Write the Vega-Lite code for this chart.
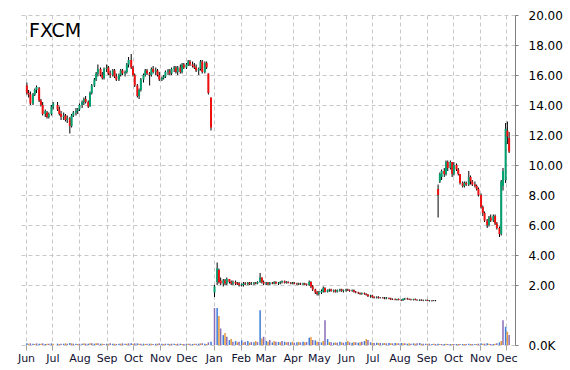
{
"$schema":"https://vega.github.io/schema/vega-lite/v6.json",
"width":494,"height":330,
"autosize":{"type":"none"},
"padding":{"left":21,"top":15,"right":55,"bottom":25},
"background":"white",
"title":{"text":"FXCM","anchor":"start","frame":"group","baseline":"top","offset":0,"dx":8,"dy":32,"fontSize":19,"font":"DejaVu Sans","fontWeight":"normal","color":"#000000"},
"config":{"view":{"stroke":null},"font":"DejaVu Sans","axis":{"labelOverlap":false},"axisY":{"labelOverlap":false},"axisRight":{"labelOverlap":false}},
"data":{"values":[
{"d":"2014-06-02","o":15.3,"h":15.5,"l":14.7,"c":14.8,"v":5},
{"d":"2014-06-04","o":14.8,"h":15.0,"l":14.5,"c":14.7,"v":4},
{"d":"2014-06-06","o":14.7,"h":14.9,"l":14.0,"c":14.1,"v":5},
{"d":"2014-06-09","o":14.1,"h":14.8,"l":14.0,"c":14.7,"v":4},
{"d":"2014-06-11","o":14.7,"h":15.1,"l":14.6,"c":15.0,"v":3},
{"d":"2014-06-13","o":15.0,"h":15.3,"l":14.8,"c":15.2,"v":5},
{"d":"2014-06-16","o":15.1,"h":15.2,"l":14.2,"c":14.3,"v":4},
{"d":"2014-06-18","o":14.3,"h":14.4,"l":13.9,"c":14.0,"v":4},
{"d":"2014-06-20","o":14.0,"h":14.2,"l":13.3,"c":13.4,"v":5},
{"d":"2014-06-23","o":13.4,"h":13.7,"l":13.2,"c":13.6,"v":3},
{"d":"2014-06-25","o":13.5,"h":13.6,"l":13.1,"c":13.2,"v":4},
{"d":"2014-06-27","o":13.2,"h":13.5,"l":13.1,"c":13.4,"v":4},
{"d":"2014-06-30","o":13.4,"h":14.0,"l":13.3,"c":13.9,"v":5},
{"d":"2014-07-02","o":13.9,"h":14.2,"l":13.7,"c":14.1,"v":4},
{"d":"2014-07-07","o":14.0,"h":14.2,"l":13.6,"c":13.7,"v":4},
{"d":"2014-07-09","o":13.7,"h":13.9,"l":13.3,"c":13.4,"v":3},
{"d":"2014-07-11","o":13.4,"h":13.6,"l":13.0,"c":13.2,"v":4},
{"d":"2014-07-14","o":13.2,"h":13.5,"l":13.0,"c":13.3,"v":4},
{"d":"2014-07-16","o":13.3,"h":13.4,"l":12.9,"c":13.0,"v":5},
{"d":"2014-07-18","o":13.0,"h":13.3,"l":12.8,"c":13.1,"v":4},
{"d":"2014-07-21","o":13.1,"h":13.2,"l":12.1,"c":12.6,"v":6},
{"d":"2014-07-23","o":12.6,"h":13.4,"l":12.5,"c":13.3,"v":5},
{"d":"2014-07-25","o":13.3,"h":13.6,"l":13.2,"c":13.5,"v":4},
{"d":"2014-07-28","o":13.5,"h":13.8,"l":13.3,"c":13.6,"v":4},
{"d":"2014-07-30","o":13.6,"h":13.8,"l":13.4,"c":13.7,"v":3},
{"d":"2014-08-01","o":13.7,"h":14.1,"l":13.6,"c":14.0,"v":4},
{"d":"2014-08-04","o":14.0,"h":14.3,"l":13.8,"c":14.2,"v":4},
{"d":"2014-08-06","o":14.2,"h":14.5,"l":14.0,"c":14.4,"v":5},
{"d":"2014-08-08","o":14.4,"h":14.6,"l":14.1,"c":14.2,"v":4},
{"d":"2014-08-11","o":14.2,"h":14.3,"l":13.8,"c":13.9,"v":4},
{"d":"2014-08-13","o":13.9,"h":14.9,"l":13.9,"c":14.8,"v":5},
{"d":"2014-08-15","o":14.8,"h":15.4,"l":14.7,"c":15.3,"v":5},
{"d":"2014-08-18","o":15.3,"h":15.8,"l":15.2,"c":15.7,"v":4},
{"d":"2014-08-20","o":15.7,"h":16.2,"l":15.6,"c":16.1,"v":5},
{"d":"2014-08-22","o":16.1,"h":16.7,"l":15.9,"c":16.4,"v":5},
{"d":"2014-08-25","o":16.4,"h":16.5,"l":15.9,"c":16.0,"v":4},
{"d":"2014-08-27","o":16.0,"h":16.2,"l":15.7,"c":15.8,"v":4},
{"d":"2014-08-29","o":15.8,"h":16.5,"l":15.7,"c":16.4,"v":3},
{"d":"2014-09-01","o":16.4,"h":16.7,"l":16.2,"c":16.5,"v":4},
{"d":"2014-09-03","o":16.5,"h":16.6,"l":16.0,"c":16.1,"v":4},
{"d":"2014-09-05","o":16.1,"h":16.3,"l":15.8,"c":16.0,"v":5},
{"d":"2014-09-08","o":16.0,"h":16.4,"l":15.9,"c":16.3,"v":4},
{"d":"2014-09-10","o":16.3,"h":16.4,"l":15.8,"c":15.9,"v":4},
{"d":"2014-09-12","o":15.9,"h":16.1,"l":15.6,"c":15.7,"v":3},
{"d":"2014-09-15","o":15.7,"h":16.1,"l":15.6,"c":16.0,"v":4},
{"d":"2014-09-17","o":16.0,"h":16.4,"l":15.9,"c":16.3,"v":4},
{"d":"2014-09-19","o":16.3,"h":16.4,"l":16.0,"c":16.1,"v":5},
{"d":"2014-09-22","o":16.1,"h":16.3,"l":15.9,"c":16.2,"v":4},
{"d":"2014-09-24","o":16.2,"h":16.8,"l":16.1,"c":16.7,"v":4},
{"d":"2014-09-26","o":16.7,"h":17.2,"l":16.5,"c":17.0,"v":5},
{"d":"2014-09-29","o":17.0,"h":17.4,"l":16.4,"c":16.5,"v":5},
{"d":"2014-10-01","o":16.5,"h":16.6,"l":15.9,"c":16.0,"v":4},
{"d":"2014-10-03","o":16.0,"h":16.1,"l":15.2,"c":15.3,"v":5},
{"d":"2014-10-06","o":15.3,"h":15.4,"l":14.5,"c":14.6,"v":5},
{"d":"2014-10-08","o":14.6,"h":15.1,"l":14.4,"c":15.0,"v":4},
{"d":"2014-10-10","o":15.0,"h":15.8,"l":14.9,"c":15.7,"v":4},
{"d":"2014-10-13","o":15.7,"h":16.1,"l":15.5,"c":16.0,"v":4},
{"d":"2014-10-15","o":16.0,"h":16.4,"l":15.9,"c":16.3,"v":3},
{"d":"2014-10-17","o":16.3,"h":16.4,"l":16.0,"c":16.1,"v":4},
{"d":"2014-10-20","o":16.1,"h":16.2,"l":15.3,"c":16.0,"v":4},
{"d":"2014-10-22","o":16.0,"h":16.5,"l":15.9,"c":16.4,"v":4},
{"d":"2014-10-24","o":16.4,"h":16.6,"l":16.1,"c":16.2,"v":3},
{"d":"2014-10-27","o":16.2,"h":16.5,"l":16.0,"c":16.3,"v":4},
{"d":"2014-10-29","o":16.3,"h":16.4,"l":15.9,"c":16.0,"v":4},
{"d":"2014-10-31","o":16.0,"h":16.2,"l":15.6,"c":15.7,"v":5},
{"d":"2014-11-03","o":15.7,"h":15.9,"l":15.6,"c":15.8,"v":4},
{"d":"2014-11-05","o":15.8,"h":16.0,"l":15.7,"c":15.9,"v":3},
{"d":"2014-11-07","o":15.9,"h":16.3,"l":15.8,"c":16.2,"v":4},
{"d":"2014-11-10","o":16.2,"h":16.4,"l":16.0,"c":16.3,"v":4},
{"d":"2014-11-12","o":16.3,"h":16.4,"l":16.0,"c":16.1,"v":3},
{"d":"2014-11-14","o":16.1,"h":16.5,"l":16.0,"c":16.4,"v":4},
{"d":"2014-11-17","o":16.4,"h":16.6,"l":16.2,"c":16.5,"v":4},
{"d":"2014-11-19","o":16.5,"h":16.6,"l":16.1,"c":16.2,"v":3},
{"d":"2014-11-21","o":16.2,"h":16.6,"l":16.0,"c":16.5,"v":4},
{"d":"2014-11-24","o":16.5,"h":16.7,"l":16.1,"c":16.2,"v":4},
{"d":"2014-11-26","o":16.2,"h":16.8,"l":16.1,"c":16.7,"v":3},
{"d":"2014-11-28","o":16.7,"h":16.8,"l":16.4,"c":16.5,"v":3},
{"d":"2014-12-01","o":16.5,"h":16.8,"l":16.4,"c":16.7,"v":4},
{"d":"2014-12-03","o":16.7,"h":17.0,"l":16.6,"c":16.9,"v":4},
{"d":"2014-12-05","o":16.9,"h":17.0,"l":16.6,"c":16.7,"v":4},
{"d":"2014-12-08","o":16.7,"h":16.9,"l":16.5,"c":16.6,"v":3},
{"d":"2014-12-10","o":16.6,"h":16.8,"l":16.4,"c":16.5,"v":4},
{"d":"2014-12-12","o":16.5,"h":16.7,"l":16.2,"c":16.3,"v":4},
{"d":"2014-12-15","o":16.3,"h":16.5,"l":16.0,"c":16.4,"v":4},
{"d":"2014-12-17","o":16.4,"h":17.0,"l":16.3,"c":16.9,"v":5},
{"d":"2014-12-19","o":16.9,"h":17.0,"l":16.1,"c":16.2,"v":5},
{"d":"2014-12-22","o":16.2,"h":16.9,"l":16.1,"c":16.8,"v":4},
{"d":"2014-12-24","o":16.8,"h":16.9,"l":16.4,"c":16.5,"v":3},
{"d":"2014-12-26","o":16.1,"h":16.1,"l":14.7,"c":14.8,"v":8},
{"d":"2014-12-29","o":14.5,"h":14.5,"l":12.3,"c":12.5,"v":10},
{"d":"2015-01-02","o":1.5,"h":2.0,"l":1.2,"c":1.9,"v":112},
{"d":"2015-01-05","o":2.2,"h":3.5,"l":2.0,"c":3.1,"v":112},
{"d":"2015-01-07","o":3.0,"h":3.1,"l":2.1,"c":2.2,"v":88},
{"d":"2015-01-09","o":2.3,"h":2.5,"l":2.0,"c":2.1,"v":50},
{"d":"2015-01-12","o":2.1,"h":2.4,"l":1.9,"c":2.3,"v":30},
{"d":"2015-01-14","o":2.3,"h":2.4,"l":2.0,"c":2.1,"v":36},
{"d":"2015-01-16","o":2.1,"h":2.5,"l":2.0,"c":2.4,"v":25},
{"d":"2015-01-19","o":2.4,"h":2.4,"l":2.1,"c":2.2,"v":15},
{"d":"2015-01-21","o":2.2,"h":2.3,"l":2.0,"c":2.1,"v":18},
{"d":"2015-01-23","o":2.1,"h":2.3,"l":2.0,"c":2.2,"v":10},
{"d":"2015-01-26","o":2.2,"h":2.3,"l":2.0,"c":2.1,"v":12},
{"d":"2015-01-28","o":2.1,"h":2.2,"l":2.0,"c":2.05,"v":8},
{"d":"2015-01-30","o":2.1,"h":2.2,"l":1.9,"c":2.0,"v":10},
{"d":"2015-02-02","o":2.0,"h":2.1,"l":1.9,"c":2.05,"v":14},
{"d":"2015-02-04","o":2.0,"h":2.2,"l":1.9,"c":2.1,"v":8},
{"d":"2015-02-06","o":2.1,"h":2.2,"l":2.0,"c":2.05,"v":10},
{"d":"2015-02-09","o":2.05,"h":2.2,"l":2.0,"c":2.15,"v":12},
{"d":"2015-02-11","o":2.15,"h":2.2,"l":2.0,"c":2.05,"v":7},
{"d":"2015-02-13","o":2.05,"h":2.2,"l":2.0,"c":2.1,"v":9},
{"d":"2015-02-16","o":2.1,"h":2.2,"l":2.0,"c":2.15,"v":8},
{"d":"2015-02-18","o":2.15,"h":2.2,"l":2.05,"c":2.1,"v":12},
{"d":"2015-02-20","o":2.1,"h":2.25,"l":2.05,"c":2.2,"v":9},
{"d":"2015-02-23","o":2.2,"h":2.8,"l":2.15,"c":2.5,"v":105},
{"d":"2015-02-25","o":2.5,"h":2.5,"l":2.1,"c":2.2,"v":20},
{"d":"2015-02-27","o":2.2,"h":2.3,"l":2.0,"c":2.1,"v":25},
{"d":"2015-03-02","o":2.1,"h":2.2,"l":2.0,"c":2.15,"v":12},
{"d":"2015-03-04","o":2.15,"h":2.2,"l":2.0,"c":2.05,"v":10},
{"d":"2015-03-06","o":2.05,"h":2.2,"l":2.0,"c":2.15,"v":15},
{"d":"2015-03-09","o":2.15,"h":2.2,"l":2.05,"c":2.1,"v":8},
{"d":"2015-03-11","o":2.1,"h":2.25,"l":2.05,"c":2.2,"v":12},
{"d":"2015-03-13","o":2.2,"h":2.25,"l":2.05,"c":2.1,"v":10},
{"d":"2015-03-16","o":2.1,"h":2.2,"l":2.0,"c":2.15,"v":9},
{"d":"2015-03-18","o":2.15,"h":2.25,"l":2.05,"c":2.2,"v":8},
{"d":"2015-03-20","o":2.2,"h":2.3,"l":2.1,"c":2.25,"v":12},
{"d":"2015-03-23","o":2.25,"h":2.3,"l":2.1,"c":2.15,"v":10},
{"d":"2015-03-25","o":2.15,"h":2.25,"l":2.1,"c":2.2,"v":8},
{"d":"2015-03-27","o":2.2,"h":2.25,"l":2.1,"c":2.15,"v":9},
{"d":"2015-03-30","o":2.15,"h":2.2,"l":2.05,"c":2.1,"v":8},
{"d":"2015-04-01","o":2.1,"h":2.2,"l":2.05,"c":2.15,"v":10},
{"d":"2015-04-03","o":2.15,"h":2.2,"l":2.05,"c":2.1,"v":7},
{"d":"2015-04-06","o":2.1,"h":2.15,"l":2.0,"c":2.05,"v":8},
{"d":"2015-04-08","o":2.05,"h":2.15,"l":2.0,"c":2.1,"v":9},
{"d":"2015-04-10","o":2.1,"h":2.15,"l":2.0,"c":2.05,"v":8},
{"d":"2015-04-13","o":2.05,"h":2.15,"l":2.0,"c":2.1,"v":10},
{"d":"2015-04-15","o":2.1,"h":2.15,"l":2.0,"c":2.05,"v":8},
{"d":"2015-04-17","o":2.05,"h":2.1,"l":1.95,"c":2.0,"v":9},
{"d":"2015-04-20","o":2.0,"h":2.3,"l":1.95,"c":2.2,"v":22},
{"d":"2015-04-22","o":2.2,"h":2.25,"l":1.8,"c":1.9,"v":24},
{"d":"2015-04-24","o":1.9,"h":2.0,"l":1.6,"c":1.7,"v":15},
{"d":"2015-04-27","o":1.7,"h":1.75,"l":1.4,"c":1.5,"v":14},
{"d":"2015-04-29","o":1.5,"h":1.6,"l":1.3,"c":1.4,"v":10},
{"d":"2015-05-01","o":1.4,"h":1.6,"l":1.3,"c":1.5,"v":9},
{"d":"2015-05-04","o":1.5,"h":1.7,"l":1.4,"c":1.6,"v":8},
{"d":"2015-05-06","o":1.6,"h":1.9,"l":1.5,"c":1.8,"v":12},
{"d":"2015-05-08","o":1.8,"h":1.85,"l":1.5,"c":1.55,"v":75},
{"d":"2015-05-11","o":1.55,"h":1.7,"l":1.5,"c":1.65,"v":18},
{"d":"2015-05-13","o":1.65,"h":1.75,"l":1.55,"c":1.7,"v":9},
{"d":"2015-05-15","o":1.7,"h":1.75,"l":1.55,"c":1.6,"v":8},
{"d":"2015-05-18","o":1.6,"h":1.7,"l":1.5,"c":1.65,"v":7},
{"d":"2015-05-20","o":1.65,"h":1.7,"l":1.5,"c":1.55,"v":8},
{"d":"2015-05-22","o":1.55,"h":1.7,"l":1.5,"c":1.65,"v":7},
{"d":"2015-05-25","o":1.65,"h":1.75,"l":1.55,"c":1.7,"v":10},
{"d":"2015-05-27","o":1.7,"h":1.75,"l":1.55,"c":1.6,"v":8},
{"d":"2015-05-29","o":1.6,"h":1.7,"l":1.5,"c":1.65,"v":7},
{"d":"2015-06-01","o":1.65,"h":1.75,"l":1.55,"c":1.7,"v":9},
{"d":"2015-06-03","o":1.7,"h":1.75,"l":1.6,"c":1.65,"v":12},
{"d":"2015-06-05","o":1.65,"h":1.7,"l":1.55,"c":1.6,"v":8},
{"d":"2015-06-08","o":1.6,"h":1.7,"l":1.55,"c":1.65,"v":7},
{"d":"2015-06-10","o":1.65,"h":1.7,"l":1.5,"c":1.55,"v":9},
{"d":"2015-06-12","o":1.55,"h":1.6,"l":1.45,"c":1.5,"v":8},
{"d":"2015-06-15","o":1.5,"h":1.55,"l":1.4,"c":1.45,"v":7},
{"d":"2015-06-17","o":1.45,"h":1.5,"l":1.35,"c":1.4,"v":8},
{"d":"2015-06-19","o":1.4,"h":1.5,"l":1.35,"c":1.45,"v":10},
{"d":"2015-06-22","o":1.45,"h":1.5,"l":1.35,"c":1.4,"v":12},
{"d":"2015-06-24","o":1.4,"h":1.45,"l":1.3,"c":1.35,"v":18},
{"d":"2015-06-26","o":1.35,"h":1.4,"l":1.2,"c":1.25,"v":15},
{"d":"2015-06-29","o":1.25,"h":1.35,"l":1.15,"c":1.3,"v":8},
{"d":"2015-07-01","o":1.3,"h":1.35,"l":1.15,"c":1.2,"v":7},
{"d":"2015-07-03","o":1.2,"h":1.25,"l":1.1,"c":1.15,"v":6},
{"d":"2015-07-06","o":1.15,"h":1.25,"l":1.1,"c":1.2,"v":7},
{"d":"2015-07-08","o":1.2,"h":1.25,"l":1.1,"c":1.15,"v":6},
{"d":"2015-07-10","o":1.15,"h":1.2,"l":1.1,"c":1.15,"v":6},
{"d":"2015-07-13","o":1.15,"h":1.2,"l":1.1,"c":1.12,"v":5},
{"d":"2015-07-15","o":1.12,"h":1.2,"l":1.05,"c":1.1,"v":6},
{"d":"2015-07-17","o":1.1,"h":1.2,"l":1.05,"c":1.15,"v":5},
{"d":"2015-07-20","o":1.15,"h":1.15,"l":1.05,"c":1.1,"v":6},
{"d":"2015-07-22","o":1.1,"h":1.15,"l":1.0,"c":1.05,"v":5},
{"d":"2015-07-24","o":1.05,"h":1.1,"l":1.0,"c":1.03,"v":5},
{"d":"2015-07-27","o":1.03,"h":1.1,"l":0.98,"c":1.0,"v":6},
{"d":"2015-07-29","o":1.0,"h":1.08,"l":0.97,"c":1.05,"v":5},
{"d":"2015-07-31","o":1.05,"h":1.1,"l":0.98,"c":1.0,"v":5},
{"d":"2015-08-03","o":1.0,"h":1.05,"l":0.93,"c":0.98,"v":6},
{"d":"2015-08-05","o":0.98,"h":1.1,"l":0.95,"c":1.08,"v":5},
{"d":"2015-08-07","o":1.08,"h":1.15,"l":1.0,"c":1.1,"v":5},
{"d":"2015-08-10","o":1.1,"h":1.15,"l":1.02,"c":1.05,"v":4},
{"d":"2015-08-12","o":1.05,"h":1.1,"l":1.0,"c":1.03,"v":5},
{"d":"2015-08-14","o":1.03,"h":1.08,"l":0.97,"c":1.0,"v":4},
{"d":"2015-08-17","o":1.0,"h":1.08,"l":0.97,"c":1.05,"v":5},
{"d":"2015-08-19","o":1.05,"h":1.1,"l":0.98,"c":1.0,"v":4},
{"d":"2015-08-21","o":1.0,"h":1.05,"l":0.95,"c":0.98,"v":5},
{"d":"2015-08-24","o":0.98,"h":1.05,"l":0.93,"c":1.0,"v":6},
{"d":"2015-08-26","o":1.0,"h":1.05,"l":0.95,"c":0.97,"v":4},
{"d":"2015-08-28","o":0.97,"h":1.03,"l":0.92,"c":0.98,"v":4},
{"d":"2015-08-31","o":0.98,"h":1.03,"l":0.93,"c":1.0,"v":4},
{"d":"2015-09-02","o":1.0,"h":1.03,"l":0.92,"c":0.95,"v":4},
{"d":"2015-09-04","o":0.95,"h":1.0,"l":0.9,"c":0.97,"v":4},
{"d":"2015-09-07","o":0.97,"h":1.0,"l":0.9,"c":0.95,"v":3},
{"d":"2015-09-09","o":0.95,"h":1.0,"l":0.92,"c":0.97,"v":4},
{"d":"2015-09-11","o":0.97,"h":1.0,"l":0.92,"c":0.96,"v":3},
{"d":"2015-09-14","o":8.4,"h":8.7,"l":6.5,"c":8.0,"v":4},
{"d":"2015-09-16","o":8.9,"h":9.5,"l":8.8,"c":9.4,"v":3},
{"d":"2015-09-18","o":9.2,"h":9.7,"l":9.0,"c":9.6,"v":3},
{"d":"2015-09-21","o":9.6,"h":9.8,"l":9.2,"c":9.4,"v":3},
{"d":"2015-09-23","o":9.4,"h":10.3,"l":9.3,"c":10.2,"v":4},
{"d":"2015-09-25","o":10.2,"h":10.3,"l":9.6,"c":9.8,"v":3},
{"d":"2015-09-28","o":9.8,"h":10.3,"l":9.7,"c":10.2,"v":3},
{"d":"2015-09-30","o":10.2,"h":10.2,"l":9.2,"c":9.4,"v":3},
{"d":"2015-10-02","o":9.4,"h":10.2,"l":9.3,"c":10.0,"v":3},
{"d":"2015-10-05","o":10.0,"h":10.1,"l":9.6,"c":9.7,"v":3},
{"d":"2015-10-07","o":9.7,"h":9.8,"l":9.3,"c":9.4,"v":3},
{"d":"2015-10-09","o":9.4,"h":9.4,"l":8.7,"c":8.8,"v":3},
{"d":"2015-10-12","o":8.8,"h":8.9,"l":8.5,"c":8.6,"v":3},
{"d":"2015-10-14","o":8.6,"h":8.9,"l":8.5,"c":8.8,"v":3},
{"d":"2015-10-16","o":8.8,"h":8.9,"l":8.6,"c":8.7,"v":3},
{"d":"2015-10-19","o":8.7,"h":9.6,"l":8.6,"c":9.2,"v":4},
{"d":"2015-10-21","o":9.2,"h":9.3,"l":8.7,"c":8.9,"v":3},
{"d":"2015-10-23","o":8.9,"h":9.0,"l":8.6,"c":8.7,"v":3},
{"d":"2015-10-26","o":8.7,"h":8.9,"l":8.5,"c":8.6,"v":3},
{"d":"2015-10-28","o":8.6,"h":8.7,"l":8.3,"c":8.4,"v":3},
{"d":"2015-10-30","o":8.4,"h":8.5,"l":7.9,"c":8.0,"v":4},
{"d":"2015-11-02","o":8.0,"h":8.1,"l":7.1,"c":7.2,"v":5},
{"d":"2015-11-04","o":7.2,"h":7.3,"l":6.6,"c":6.8,"v":4},
{"d":"2015-11-06","o":6.8,"h":6.9,"l":6.2,"c":6.3,"v":4},
{"d":"2015-11-09","o":6.3,"h":6.4,"l":5.8,"c":6.0,"v":5},
{"d":"2015-11-11","o":6.0,"h":6.6,"l":5.9,"c":6.5,"v":4},
{"d":"2015-11-13","o":6.5,"h":6.7,"l":6.2,"c":6.3,"v":3},
{"d":"2015-11-16","o":6.3,"h":6.7,"l":6.2,"c":6.6,"v":3},
{"d":"2015-11-18","o":6.6,"h":6.7,"l":6.0,"c":6.1,"v":4},
{"d":"2015-11-20","o":6.1,"h":6.2,"l":5.7,"c":5.8,"v":5},
{"d":"2015-11-23","o":5.8,"h":5.9,"l":5.2,"c":5.4,"v":8},
{"d":"2015-11-25","o":5.4,"h":9.0,"l":5.3,"c":8.9,"v":12},
{"d":"2015-11-27","o":8.6,"h":9.8,"l":8.3,"c":9.6,"v":75},
{"d":"2015-11-30","o":9.0,"h":12.8,"l":8.8,"c":12.4,"v":55},
{"d":"2015-12-02","o":12.3,"h":12.9,"l":11.4,"c":11.9,"v":40},
{"d":"2015-12-04","o":11.8,"h":12.2,"l":10.8,"c":10.9,"v":30}
]},
"encoding":{
  "x":{"field":"d","type":"temporal",
       "scale":{"type":"utc","domain":[{"year":2014,"month":6,"date":1,"utc":true},{"year":2015,"month":12,"date":5,"utc":true}]},
       "axis":{"title":null,"labelExpr":"utcFormat(datum.value, '%b')","tickCount":{"interval":"month","step":1},
               "grid":true,"gridColor":"#c8c8c8","gridDash":[4,3],"domain":false,
               "tickColor":"#a0a0a0","tickSize":5,"labelPadding":2,"labelFont":"DejaVu Sans","labelFontSize":11,
               "labelColor":"#101030","labelFlush":false,"labelOverlap":false}}
},
"layer":[
  {"mark":{"type":"bar","width":1.5},
   "encoding":{
     "y":{"field":"v","type":"quantitative","scale":{"domain":[0,1000]},"axis":null},
     "color":{"timeUnit":"utcday","field":"d","type":"ordinal","scale":{"range":["#3b7dd8","#e89a3a","#8a6bb8"]},"legend":null}
   }},
  {"layer":[
    {"mark":{"type":"rule","color":"#000000","strokeWidth":1},
     "encoding":{
       "y":{"field":"l","type":"quantitative","scale":{"domain":[-2,20],"nice":false,"zero":false},
            "axis":{"orient":"right","title":null,"values":[-2,2,4,6,8,10,12,14,16,18,20],
                    "labelExpr":"datum.value < 0 ? '0.0K' : format(datum.value, '.2f')",
                    "grid":true,"gridColor":"#c8c8c8","gridDash":[4,3],"labelOverlap":false,
                    "domain":true,"domainColor":"#808080","tickColor":"#808080","tickSize":3,
                    "labelPadding":10,"labelFont":"DejaVu Sans","labelFontSize":12,"labelColor":"#000000"}},
       "y2":{"field":"h"}
     }},
    {"mark":{"type":"bar","width":2},
     "encoding":{
       "y":{"field":"o","type":"quantitative","axis":{"orient":"right","title":null,"values":[-2,2,4,6,8,10,12,14,16,18,20],"labelOverlap":false}},
       "y2":{"field":"c"},
       "color":{"condition":{"test":"datum.c >= datum.o","value":"#00a070"},"value":"#f01010"}
     }}
  ]}
],
"resolve":{"scale":{"y":"independent","color":"independent"}}
}
